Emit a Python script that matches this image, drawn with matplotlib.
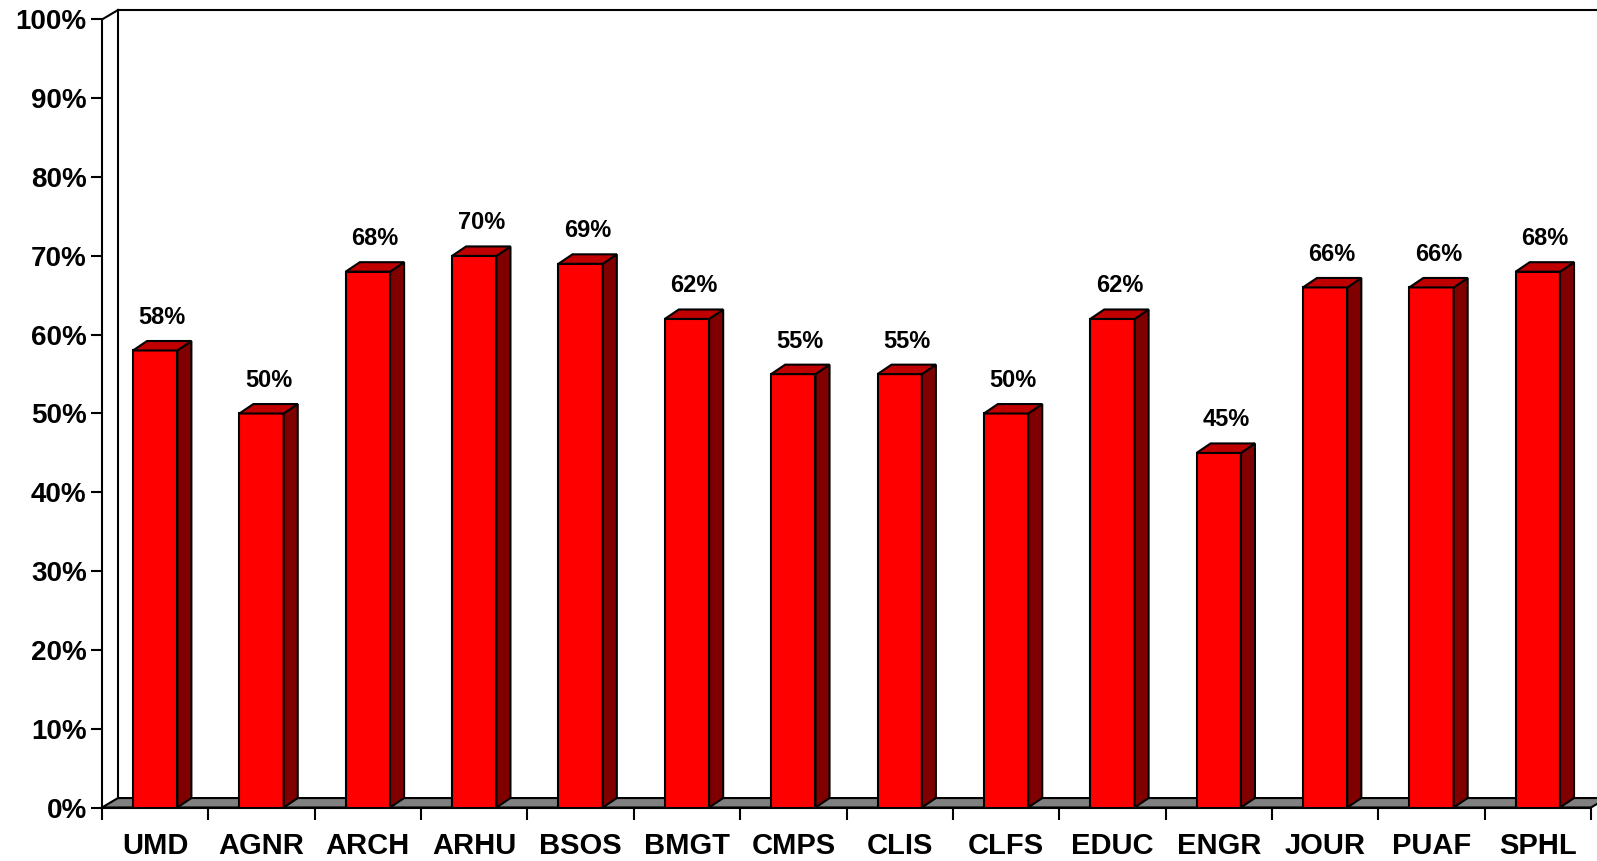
import numpy as np
import matplotlib.pyplot as plt
from matplotlib.patches import Polygon

colleges = ['UMD', 'AGNR', 'ARCH', 'ARHU', 'BSOS', 'BMGT', 'CMPS', 'CLIS',
            'CLFS', 'EDUC', 'ENGR', 'JOUR', 'PUAF', 'SPHL']
rates = [58, 50, 68, 70, 69, 62, 55, 55, 50, 62, 45, 66, 66, 68]
y_ticks = [0, 10, 20, 30, 40, 50, 60, 70, 80, 90, 100]

plt.rcParams['font.family'] = ['Liberation Sans', 'DejaVu Sans']
plt.rcParams['font.weight'] = 'bold'

fig = plt.figure(figsize=(15.97, 8.61), dpi=100)
ax = fig.add_axes([102 / 1597, 1 - 807.5 / 861, (1591 - 102) / 1597, 788 / 861])

n = len(colleges)
x = np.arange(n)
width = 0.417
# fake 3d depth, in data units
bdx, bdy = 0.132, 1.2
wdx, wdy = 0.15, 1.2
lw = 1.5

ax.set_xlim(-0.5, n - 0.5)
ax.set_ylim(0, 100)

# floor
floor = Polygon([(-0.5, 0), (n - 0.5, 0), (n - 0.5 + wdx, wdy), (-0.5 + wdx, wdy)],
                closed=True, facecolor='#808080', edgecolor='black', lw=lw,
                clip_on=False, zorder=1)
ax.add_patch(floor)
# back wall edges
ax.plot([-0.5, -0.5 + wdx], [100, 100 + wdy], color='black', lw=lw, clip_on=False, zorder=1)
ax.plot([-0.5 + wdx, -0.5 + wdx], [wdy, 100 + wdy], color='black', lw=lw, clip_on=False, zorder=1)
ax.plot([-0.5 + wdx, n - 0.5 + wdx], [100 + wdy, 100 + wdy], color='black', lw=lw,
        clip_on=False, zorder=1)

bars = ax.bar(x, rates, width, color='#FF0000', edgecolor='black', lw=lw, zorder=3)
for rect, v in zip(bars, rates):
    x0 = rect.get_x()
    x1 = x0 + rect.get_width()
    side = Polygon([(x1, 0), (x1 + bdx, bdy), (x1 + bdx, v + bdy), (x1, v)],
                   closed=True, facecolor='#800000', edgecolor='black', lw=lw, zorder=3)
    top = Polygon([(x0, v), (x1, v), (x1 + bdx, v + bdy), (x0 + bdx, v + bdy)],
                  closed=True, facecolor='#C00000', edgecolor='black', lw=lw, zorder=3)
    ax.add_patch(side)
    ax.add_patch(top)
    ax.annotate('%d%%' % v, (x0 + (width + bdx) / 2, v + bdy), xytext=(0, 17),
                textcoords='offset points', ha='center', va='center',
                fontsize=17, fontweight='bold')

for s in ['top', 'right']:
    ax.spines[s].set_visible(False)
for s in ['left', 'bottom']:
    ax.spines[s].set_linewidth(lw)
    ax.spines[s].set_zorder(2)

ax.set_yticks(y_ticks)
ax.set_yticklabels(['%d%%' % t for t in y_ticks], fontsize=20, fontweight='bold')
ax.tick_params(axis='y', length=8, width=lw, pad=3)

ax.set_xticks(np.arange(-0.5, n, 1))
ax.set_xticklabels([])
ax.tick_params(axis='x', which='major', length=8.5, width=lw)
ax.set_xticks(x, minor=True)
ax.set_xticklabels(colleges, minor=True, fontsize=21, fontweight='bold')
ax.tick_params(axis='x', which='minor', length=0, pad=18)

fig.savefig('out.png', dpi=100)
